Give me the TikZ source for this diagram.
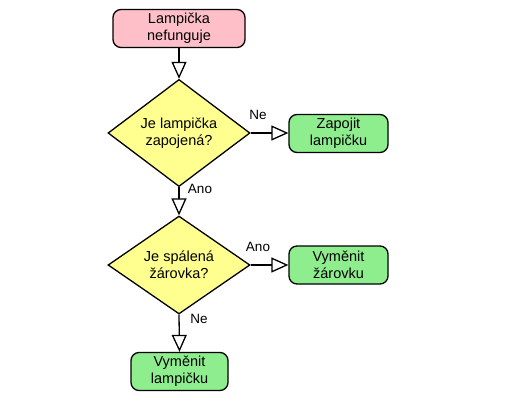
\documentclass[tikz,border=0pt]{standalone}
\usepackage{fontspec}
\setmainfont{Liberation Sans}
\usetikzlibrary{arrows.meta,shapes.geometric}
\begin{document}
\begin{tikzpicture}[x=1pt,y=-1pt,
  base/.style={draw=black, line width=1.3pt, font=\fontsize{14.5}{17}\selectfont, align=center, inner sep=0pt},
  termbox/.style={base, rounded corners=8pt, fill=pink!80!red!20, minimum width=132pt, minimum height=38pt},
  actbox/.style={base, rounded corners=8pt, fill=green!45!white!95!black, minimum width=99pt, minimum height=38pt},
  decision/.style={base, diamond, fill=yellow!55, minimum width=142pt, minimum height=90pt, aspect=1.58},
  flow/.style={line width=1.3pt, -{Triangle[length=17pt,width=15pt,fill=white,line width=1.3pt]}},
  lbl/.style={font=\fontsize{13.5}{16}\selectfont}
]
\useasboundingbox (0,0) rectangle (520,400);
\definecolor{pinkc}{HTML}{FFBFC9}
\definecolor{greenc}{HTML}{8EEE8E}
\definecolor{yellowc}{HTML}{FFFF8F}
\node[termbox, fill=pinkc] (start) at (179,28.5) {Lampička\\nefunguje};
\node[base, diamond, fill=yellowc, minimum width=142pt, minimum height=90pt] (d1) at (179,133) {Je lampička\\zapojená?};
\node[actbox, fill=greenc] (zap) at (338.5,133.5) {Zapojit\\lampičku};
\node[base, diamond, fill=yellowc, minimum width=142pt, minimum height=90pt] (d2) at (179,265) {Je spálená\\žárovka?};
\node[actbox, fill=greenc] (zar) at (338.5,265) {Vyměnit\\žárovku};
\node[actbox, fill=greenc, minimum width=97pt] (lamp) at (179.5,371.5) {Vyměnit\\lampičku};
\draw[flow] (start) -- (d1.north);
\draw[flow] (d1.east) -- (zap.west |- d1.east);
\draw[flow] (d1.south) -- (d2.north);
\draw[flow] (d2.east) -- (zar.west |- d2.east);
\draw[flow] (d2.south) -- (lamp.north);
\node[lbl] (ne1) at (258,115) {Ne};
\node[lbl] (ano1) at (200,189) {Ano};
\node[lbl] (ano2) at (258,247) {Ano};
\node[lbl] (ne2) at (199,319) {Ne};
\end{tikzpicture}
\end{document}
